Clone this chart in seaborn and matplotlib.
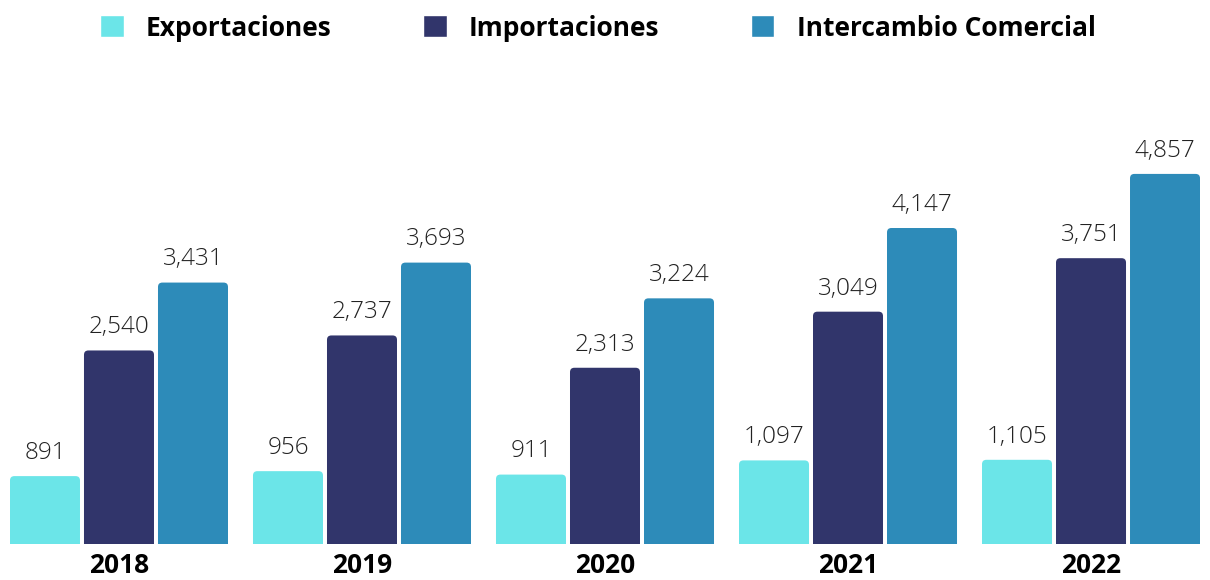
import pandas as pd
import matplotlib.pyplot as plt
import seaborn as sns
from matplotlib.patches import FancyBboxPatch

# Data
years = ["2018", "2019", "2020", "2021", "2022"]
exportaciones = [891, 956, 911, 1097, 1105]
importaciones = [2540, 2737, 2313, 3049, 3751]
intercambio = [3431, 3693, 3224, 4147, 4857]
series = ["Exportaciones", "Importaciones", "Intercambio Comercial"]
colors = ["#6BE5E8", "#31356B", "#2D8BB9"]

df = pd.DataFrame({
    "year": years * 3,
    "serie": [s for s in series for _ in years],
    "value": exportaciones + importaciones + intercambio,
})

sns.set_theme(style="white")
plt.rcParams["font.family"] = ["Open Sans", "DejaVu Sans"]

fig = plt.figure(figsize=(12.1, 5.8), dpi=100)
ax = fig.add_axes([10 / 1210, 1 - 544 / 580, 1190 / 1210, 444 / 580])

sns.barplot(data=df, x="year", y="value", hue="serie", palette=colors,
            width=0.9136, gap=0.054, ax=ax, saturation=1)

# value labels
for cont in ax.containers:
    ax.bar_label(cont, labels=[f"{v:,.0f}" for v in cont.datavalues],
                 padding=8, fontsize=17.5, fontweight="light", color="#222222")

ax.set_xlim(-0.4485, 4.4485)
ax.set_ylim(0, 5827)

# rounded top corners
aspect = (5827 / 444) / (4.897 / 1190)
for p in list(ax.patches):
    x, w, h = p.get_x(), p.get_width(), p.get_height()
    if w == 0 or h == 0:
        continue
    rb = FancyBboxPatch((x, -300), w, h + 300,
                        boxstyle="round,pad=0,rounding_size=0.018",
                        mutation_aspect=aspect, fc=p.get_facecolor(),
                        ec="none", clip_on=True)
    ax.add_patch(rb)
    p.set_visible(False)

ax.set_xlabel("")
ax.set_ylabel("")
ax.set_yticks([])
ax.tick_params(axis="x", length=0, pad=6)
for lbl in ax.get_xticklabels():
    lbl.set_fontsize(19)
    lbl.set_fontweight("bold")
    lbl.set_color("black")
sns.despine(ax=ax, left=True, bottom=True)

leg = ax.legend(loc="center", bbox_to_anchor=(0.494, 1 - 28 / 580), bbox_transform=fig.transFigure,
                ncol=3, frameon=False, handlelength=0.9, handleheight=0.9,
                handletextpad=0.85, columnspacing=3.45,
                prop={"size": 19, "weight": "bold"})
for t in leg.get_texts():
    t.set_color("black")

plt.savefig("out.png", dpi=100)
